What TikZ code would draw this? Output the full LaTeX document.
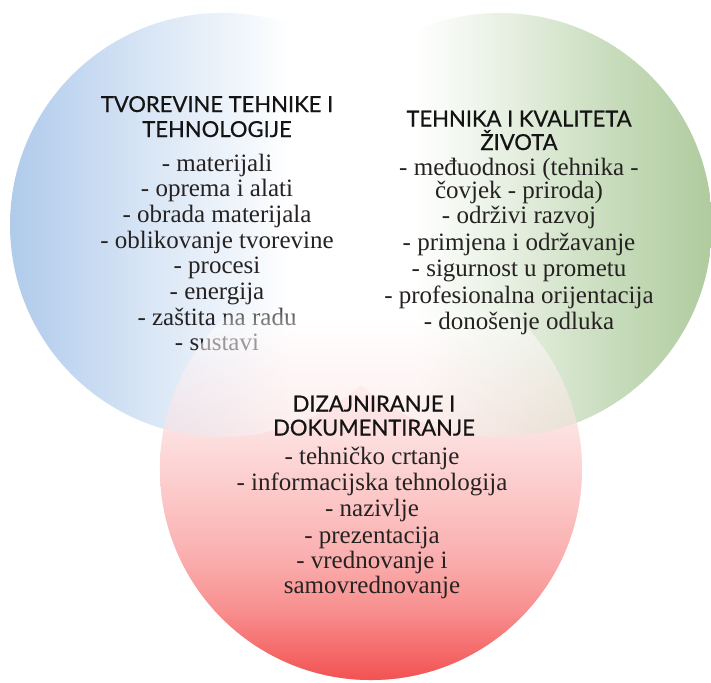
\documentclass[tikz,border=0pt]{standalone}
\usepackage{fontspec}
\usetikzlibrary{fadings}
\setmainfont{Liberation Serif}
\newfontfamily\headfont{Lato}[FakeBold=0.6]
\definecolor{bodyc}{RGB}{38,34,34}
\definecolor{headc}{RGB}{20,20,20}
\definecolor{bA}{RGB}{176,203,235}
\definecolor{bB}{RGB}{196,216,241}
\definecolor{bC}{RGB}{220,232,246}
\definecolor{bD}{RGB}{240,245,251}
\definecolor{gA}{RGB}{176,203,158}
\definecolor{gB}{RGB}{198,219,186}
\definecolor{gC}{RGB}{228,238,222}
\definecolor{rA}{RGB}{242,82,82}
\definecolor{rB}{RGB}{245,108,108}
\definecolor{rC}{RGB}{248,143,143}
\definecolor{rD}{RGB}{250,173,173}
\definecolor{rE}{RGB}{252,198,198}
\definecolor{rF}{RGB}{253,221,221}
\definecolor{rG}{RGB}{254,238,238}
\pgfdeclarehorizontalshading{blueshade}{100bp}{color(0bp)=(bA); color(25bp)=(bA); color(33.3bp)=(bB); color(42.7bp)=(bC); color(52bp)=(bD); color(58bp)=(white); color(100bp)=(white)}
\pgfdeclarehorizontalshading{greenshade}{100bp}{color(0bp)=(white); color(40bp)=(white); color(52bp)=(gC); color(64bp)=(gB); color(75bp)=(gA); color(100bp)=(gA)}
\pgfdeclareverticalshading{redshade}{100bp}{color(0bp)=(rA); color(25bp)=(rA); color(28.6bp)=(rB); color(33.3bp)=(rC); color(39.2bp)=(rD); color(46.3bp)=(rE); color(53.4bp)=(rF); color(60.5bp)=(rG); color(67.7bp)=(white); color(100bp)=(white)}
\pgfdeclareverticalshading{redfadeshade}{100bp}{color(0bp)=(white); color(66.5bp)=(white); color(70bp)=(black); color(100bp)=(black)}
\pgfdeclarefading{redfade}{\pgfuseshading{redfadeshade}}
\tikzset{
  hd/.style={font=\headfont\fontsize{22}{26}\selectfont, text=headc, anchor=base, inner sep=0pt},
  bd/.style={font=\fontsize{25}{29}\selectfont, text=bodyc, anchor=base, inner sep=0pt},
}
\begin{document}
\begin{tikzpicture}[x=1pt,y=-1pt]
\useasboundingbox[fill=white] (0,0) rectangle (711,682);
% circles
\path[shading=blueshade] (222,225) circle[radius=212];
\path[shading=greenshade] (500,225) circle[radius=212];
% left text
\node[hd] (Lh1) at (217,112) {TVOREVINE TEHNIKE I};
\node[hd] (Lh2) at (217,137) {TEHNOLOGIJE};
\node[bd] (L1) at (217,171) {- materijali};
\node[bd] (L2) at (217,196.7) {- oprema i alati};
\node[bd] (L3) at (217,222.4) {- obrada materijala};
\node[bd] (L4) at (217,248.1) {- oblikovanje tvorevine};
\node[bd] (L5) at (217,273.8) {- procesi};
\node[bd] (L6) at (217,299.5) {- energija};
\node[bd] (L7) at (217,325.2) {- zaštita na radu};
\node[bd] (L8) at (217,350.9) {- sustavi};
% bottom circle: translucent over the others, opaque elsewhere
\path[shading=redshade, fill opacity=0.55, path fading=redfade, fit fading=true] (371,469) circle[radius=211];
\begin{scope}[even odd rule]
  \clip (0,0) rectangle (711,682) (222,225) circle[radius=212];
  \begin{scope}[even odd rule]
    \clip (0,0) rectangle (711,682) (500,225) circle[radius=212];
    \path[shading=redshade] (371,469) circle[radius=211];
  \end{scope}
\end{scope}
% right text
\node[hd] (Rh1) at (519,126.5) {TEHNIKA I KVALITETA};
\node[hd] (Rh2) at (519,150) {ŽIVOTA};
\node[bd] (R1) at (519,175) {- međuodnosi (tehnika -};
\node[bd] (R2) at (519,198) {čovjek - priroda)};
\node[bd] (R3) at (519,223.5) {- održivi razvoj};
\node[bd] (R4) at (519,250) {- primjena i održavanje};
\node[bd] (R5) at (519,276.5) {- sigurnost u prometu};
\node[bd] (R6) at (519,303) {- profesionalna orijentacija};
\node[bd] (R7) at (519,329.5) {- donošenje odluka};
% bottom text
\node[hd] (Bh1) at (374,411.5) {DIZAJNIRANJE I};
\node[hd] (Bh2) at (374,435.5) {DOKUMENTIRANJE};
\node[bd] (B1) at (372,464) {- tehničko crtanje};
\node[bd] (B2) at (372,490) {- informacijska tehnologija};
\node[bd] (B3) at (372,516.5) {- nazivlje};
\node[bd] (B4) at (372,543) {- prezentacija};
\node[bd] (B5) at (372,568) {- vrednovanje i};
\node[bd] (B6) at (372,593) {samovrednovanje};
\end{tikzpicture}
\end{document}
